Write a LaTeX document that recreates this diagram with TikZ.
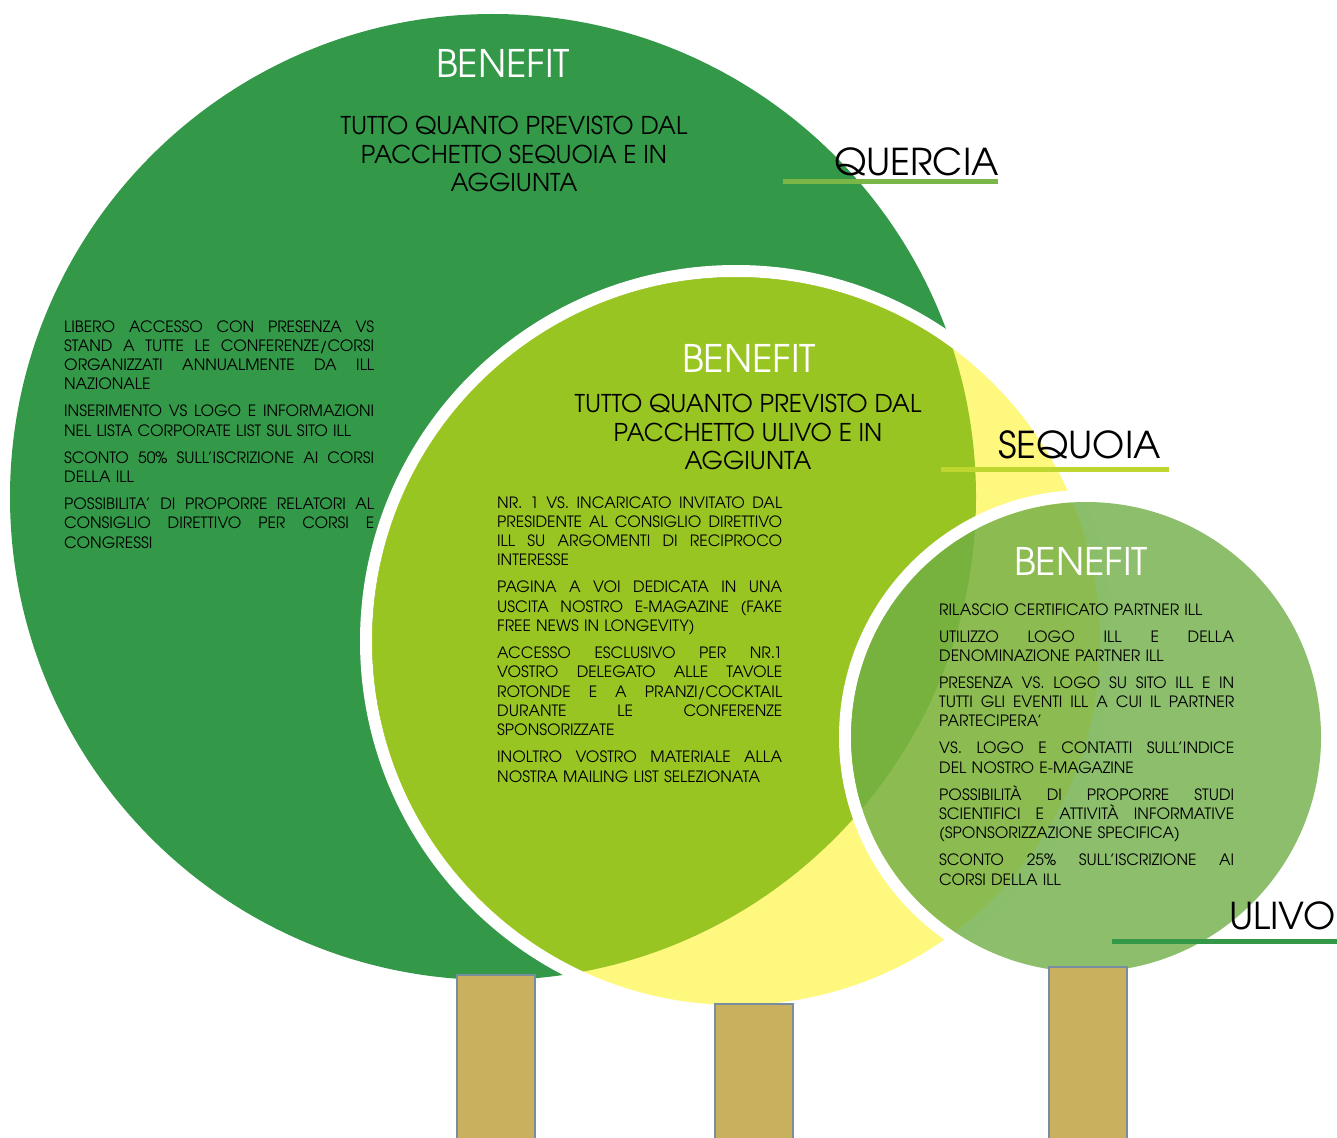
\documentclass[tikz,border=0pt]{standalone}
\usepackage{fontspec}
\setmainfont{TeX Gyre Adventor}
\definecolor{quercia}{RGB}{51,152,72}
\definecolor{ulivo}{RGB}{111,174,70}
\definecolor{trunkfill}{RGB}{201,176,94}
\definecolor{trunkline}{RGB}{120,142,158}
\definecolor{querciabar}{RGB}{122,182,72}
\definecolor{sequoiabar}{RGB}{190,214,47}
% one justified line of a list
\newcommand{\jl}[1]{\leavevmode\hbox to \lw{\spaceskip=.3333em plus 1fil\xspaceskip=\spaceskip #1}}
\begin{document}
\begin{tikzpicture}[x=1pt,y=-1pt,
    ring/.style={draw=white, line width=12pt},
    trunk/.style={fill=trunkfill, draw=trunkline, line width=2pt},
    title/.style={text=white, font=\fontsize{38}{42}\selectfont, anchor=base, inner sep=0pt},
    intro/.style={font=\fontsize{24.5}{28.5}\selectfont, align=center, anchor=base, inner sep=0pt},
    body/.style={font=\fontsize{15.6}{19.3}\selectfont, align=left, text width=#1pt,
      anchor=base west, inner sep=0pt, execute at begin node={\def\lw{#1pt}}},
    tag/.style={font=\fontsize{37}{40}\selectfont, anchor=base west, inner sep=0pt},
    bar/.style={line width=5pt, draw=#1}]
  \useasboundingbox (0,0) rectangle (1337,1137);
  % crowns
  \fill[quercia] (493,497) circle (483);
  \draw[ring] (736,641) circle (370);
  \fill[yellow, fill opacity=.5] (736,641) circle (364);
  \draw[ring] (1086,737) circle (241);
  \fill[ulivo, fill opacity=.8] (1086,737) circle (235);
  % trunks
  \foreach \x/\y in {457/975, 715/1004, 1049/967}
    \draw[trunk] (\x,\y) rectangle ++(78,180);
  % quercia
  \node[title] (bq) at (503,78) {BENEFIT};
  \node[intro] (iq) at (514,191.5) {TUTTO QUANTO PREVISTO DAL\\PACCHETTO SEQUOIA E IN\\AGGIUNTA};
  \node[body=310] (lq) at (64,332) {%
    \jl{LIBERO ACCESSO CON PRESENZA VS}\\
    \jl{STAND A TUTTE LE CONFERENZE/CORSI}\\
    \jl{ORGANIZZATI ANNUALMENTE DA ILL}\\
    NAZIONALE\\[7.7pt]
    \jl{INSERIMENTO VS LOGO E INFORMAZIONI}\\
    NEL LISTA CORPORATE LIST SUL SITO ILL\\[7.7pt]
    \jl{SCONTO 50\% SULL’ISCRIZIONE AI CORSI}\\
    DELLA ILL\\[7.7pt]
    \jl{POSSIBILITA’ DI PROPORRE RELATORI AL}\\
    \jl{CONSIGLIO DIRETTIVO PER CORSI E}\\
    CONGRESSI};
  % sequoia
  \node[title] (bs) at (749,372) {BENEFIT};
  \node[intro] (is) at (748,469.5) {TUTTO QUANTO PREVISTO DAL\\PACCHETTO ULIVO E IN\\AGGIUNTA};
  \node[body=285] (ls) at (497,508) {%
    \jl{NR. 1 VS. INCARICATO INVITATO DAL}\\
    \jl{PRESIDENTE AL CONSIGLIO DIRETTIVO}\\
    \jl{ILL SU ARGOMENTI DI RECIPROCO}\\
    INTERESSE\\[7.7pt]
    \jl{PAGINA A VOI DEDICATA IN UNA}\\
    \jl{USCITA NOSTRO E-MAGAZINE (FAKE}\\
    FREE NEWS IN LONGEVITY)\\[7.7pt]
    \jl{ACCESSO ESCLUSIVO PER NR.1}\\
    \jl{VOSTRO DELEGATO ALLE TAVOLE}\\
    \jl{ROTONDE E A PRANZI/COCKTAIL}\\
    \jl{DURANTE LE CONFERENZE}\\
    SPONSORIZZATE\\[7.7pt]
    \jl{INOLTRO VOSTRO MATERIALE ALLA}\\
    NOSTRA MAILING LIST SELEZIONATA};
  % ulivo
  \node[title] (bu) at (1081,575) {BENEFIT};
  \node[body=295] (lu) at (939,615) {%
    RILASCIO CERTIFICATO PARTNER ILL\\[7.7pt]
    \jl{UTILIZZO LOGO ILL E DELLA}\\
    DENOMINAZIONE PARTNER ILL\\[7.7pt]
    \jl{PRESENZA VS. LOGO SU SITO ILL E IN}\\
    \jl{TUTTI GLI EVENTI ILL A CUI IL PARTNER}\\
    PARTECIPERA’\\[7.7pt]
    \jl{VS. LOGO E CONTATTI SULL’INDICE}\\
    DEL NOSTRO E-MAGAZINE\\[7.7pt]
    \jl{POSSIBILITÀ DI PROPORRE STUDI}\\
    \jl{SCIENTIFICI E ATTIVITÀ INFORMATIVE}\\
    (SPONSORIZZAZIONE SPECIFICA)\\[7.7pt]
    \jl{SCONTO 25\% SULL’ISCRIZIONE AI}\\
    CORSI DELLA ILL};
  % tags
  \draw[bar=querciabar] (783,181.5) -- (998,181.5);
  \node[tag] (tq) at (834,175) {QUERCIA};
  \draw[bar=sequoiabar] (941,469.5) -- (1169,469.5);
  \node[tag] (ts) at (998,458) {SEQUOIA};
  \draw[bar=quercia] (1112,941) -- (1337,941);
  \node[tag] (tu) at (1229,929) {ULIVO};
\end{tikzpicture}
\end{document}
